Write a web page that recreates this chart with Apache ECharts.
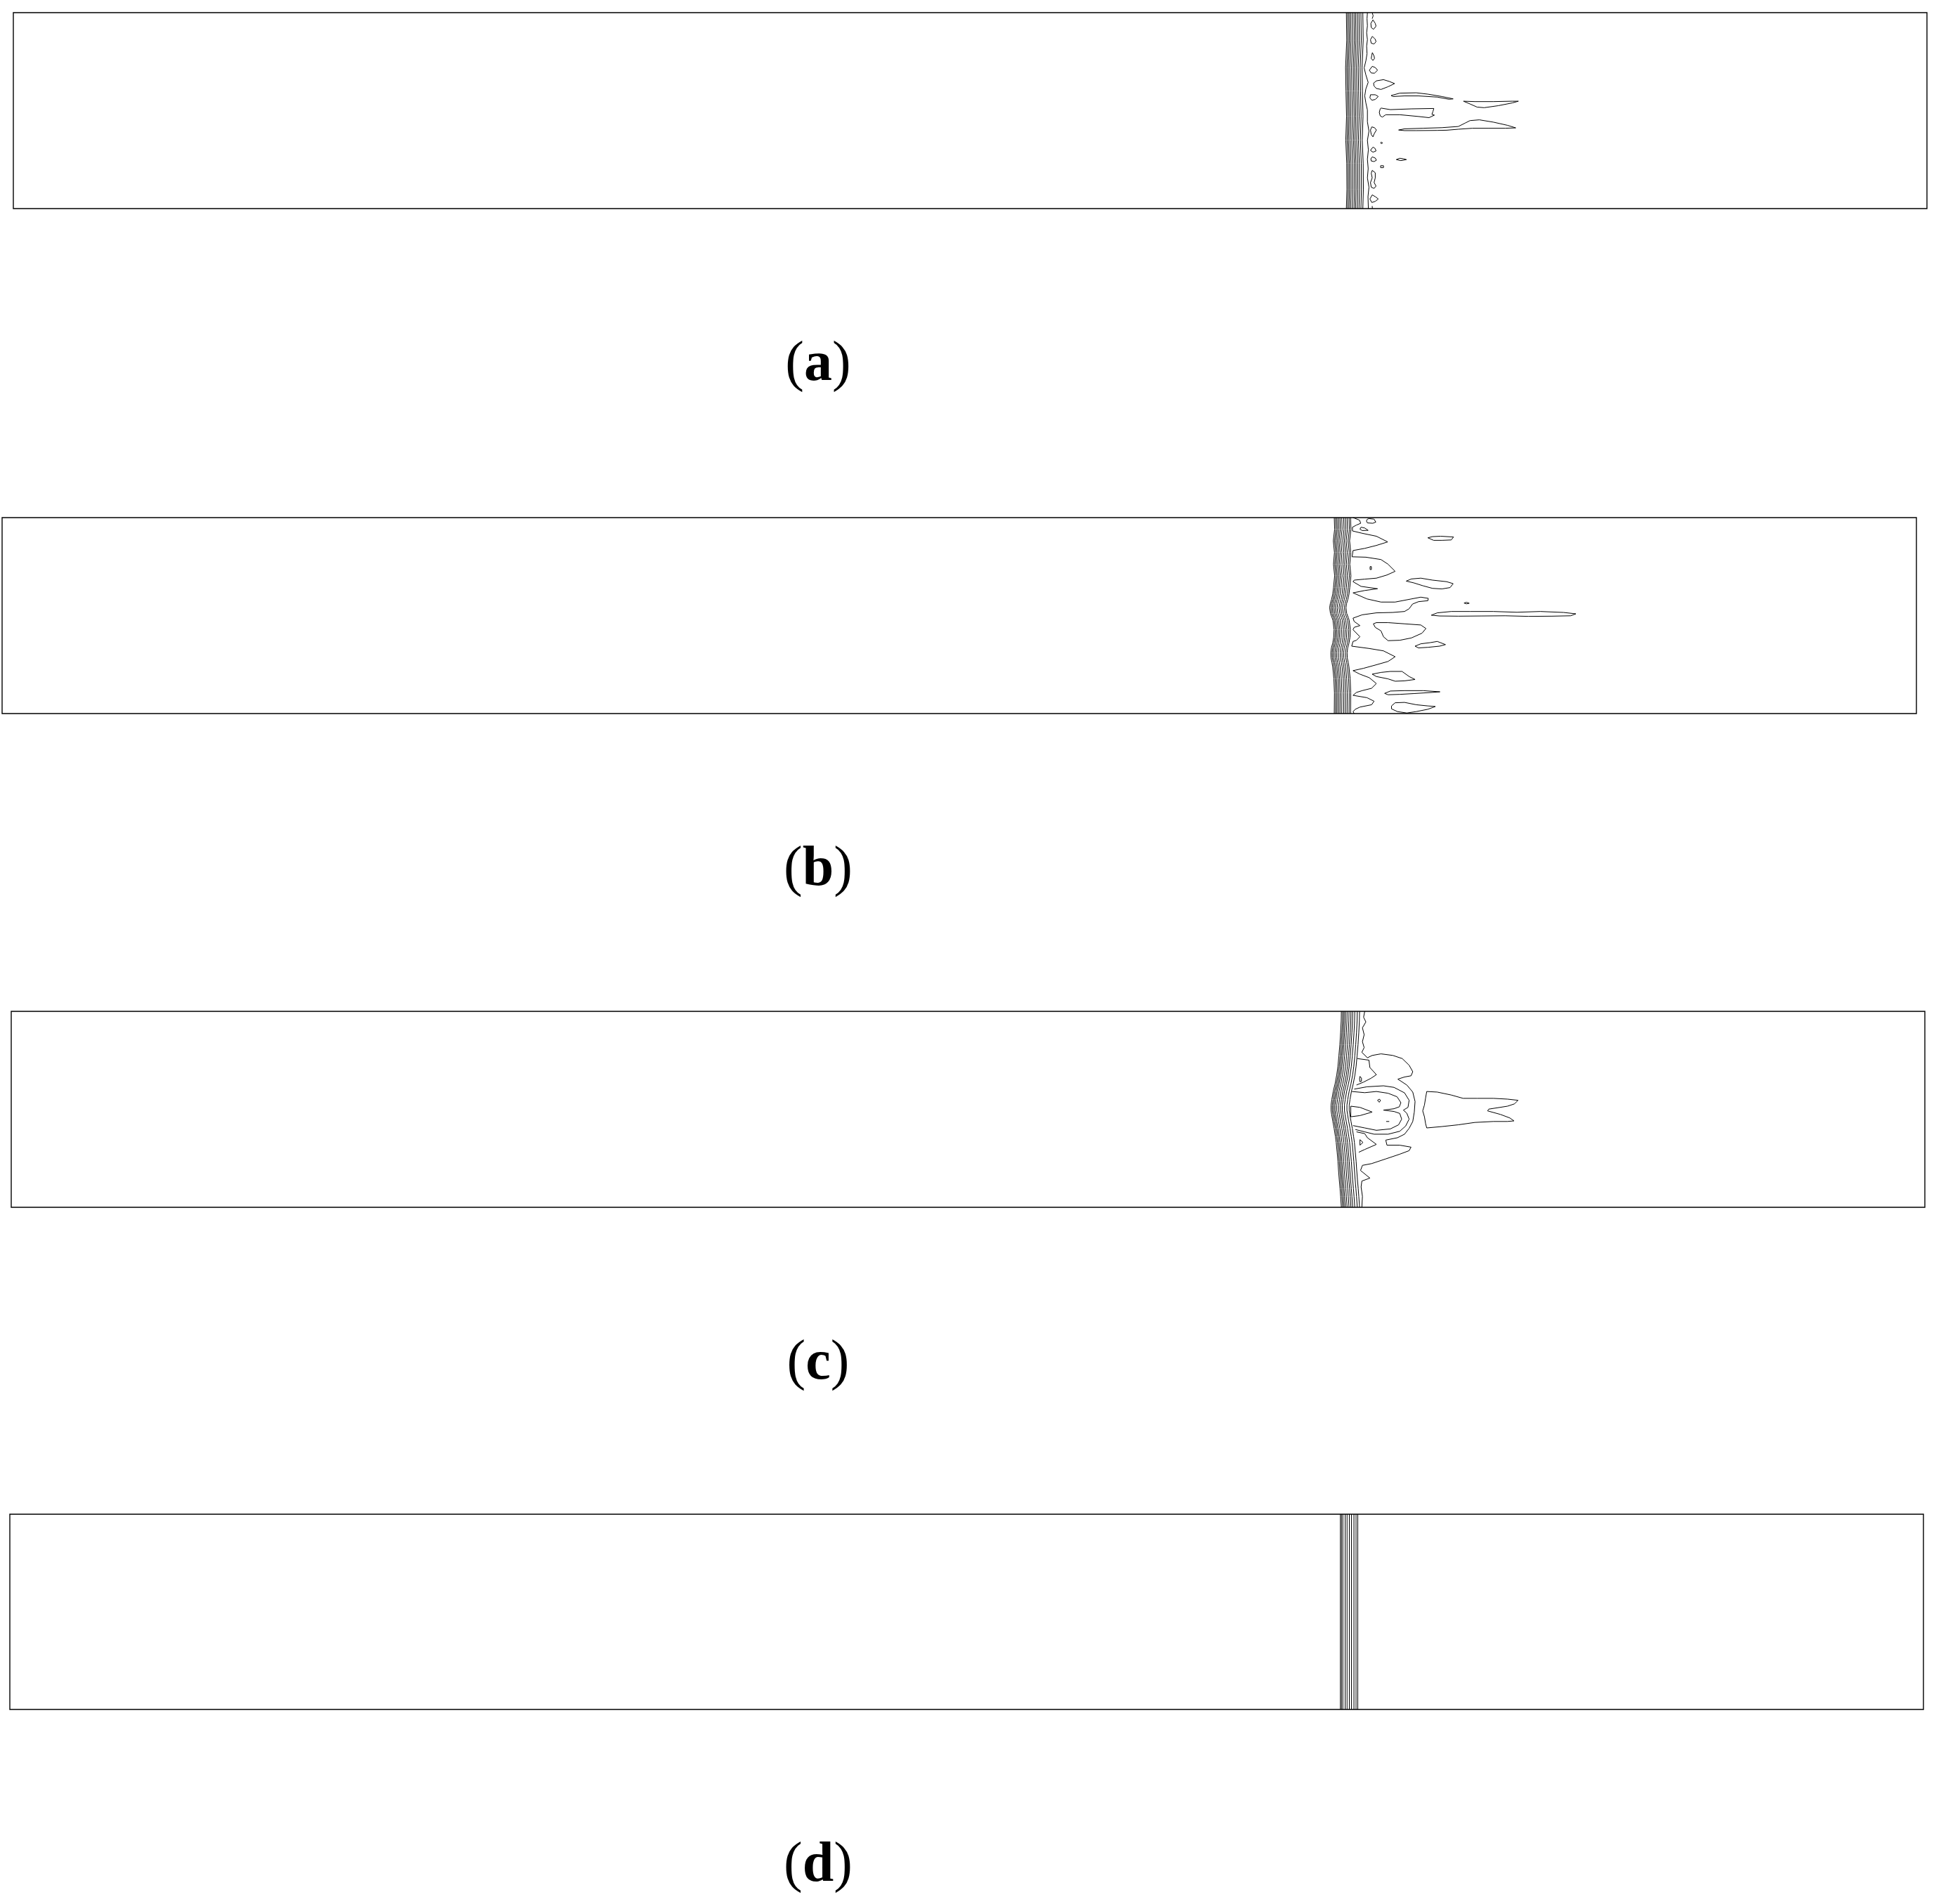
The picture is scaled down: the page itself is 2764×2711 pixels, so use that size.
<!DOCTYPE html>
<html>
<head>
<meta charset="utf-8">
<script src="https://cdn.jsdelivr.net/npm/echarts@6/dist/echarts.min.js"></script>
<style>
  html, body { margin: 0; padding: 0; background: #fff; }
  #main { width: 2764px; height: 2711px; }
</style>
</head>
<body>
<div id="main"></div>
<script>
// panel labels
var labels = ['a', 'b', 'c', 'd'];

// ---- panel (a) ----
// x of the lines in the shock bundle, and how the bundle wanders with height [y, dx]
var frontA = [69.66, 69.73, 69.80, 69.88, 69.97, 70.06, 70.14, 70.23, 70.32, 70.42, 70.52];
var waveA = [[10, 0], [8.6, 0.02], [7.2, -0.04], [6.0, -0.02], [4.7, 0.01], [3.5, -0.03], [2.3, 0.02], [1.0, 0.03], [0, 0]];
var openA = [
  [[70.76,10],[70.74,9.69],[70.76,9.33],[70.72,8.97],[70.76,8.62],[70.72,8.29],[70.74,7.90],[70.68,7.54],[70.59,7.18],[70.68,6.82],[70.80,6.44],[70.68,6.11],[70.62,5.75],[70.68,5.39],[70.76,5.03],[70.76,4.43],[70.84,3.95],[70.76,3.48],[70.81,3.00],[70.76,2.52],[70.80,2.04],[70.76,1.57],[70.84,1.09],[70.79,0.61],[70.81,0]],
  [[71.01,10],[71.06,9.84],[71.01,9.69]],
  [[71.01,0.13],[71.02,0]]
];
var loopsA = [
  [[71.05,9.63],[71.17,9.45],[71.21,9.31],[71.08,9.15],[70.96,9.24],[70.94,9.45]],
  [[71.02,8.79],[71.17,8.64],[71.21,8.52],[71.11,8.40],[70.96,8.44],[70.92,8.62]],
  [[71.02,7.96],[71.11,7.78],[71.13,7.66],[71.05,7.56],[70.96,7.66],[70.99,7.84]],
  [[71.01,7.26],[71.17,7.20],[71.29,7.06],[71.13,6.91],[70.96,6.92],[70.86,7.06]],
  [[71.08,6.40],[71.23,6.52],[71.60,6.58],[71.90,6.49],[72.18,6.38],[71.84,6.22],[71.47,6.08],[71.23,6.13],[71.11,6.25]],
  [[70.92,5.81],[71.17,5.81],[71.33,5.72],[71.17,5.57],[70.99,5.53],[70.89,5.65]],
  [[70.99,4.17],[71.13,4.13],[71.23,4.01],[71.11,3.81],[71.05,3.66],[70.96,3.78],[70.92,4.01]],
  [[71.05,3.14],[71.17,3.06],[71.21,2.94],[71.05,2.88],[70.92,2.97]],
  [[71.01,2.64],[71.17,2.58],[71.23,2.47],[71.11,2.40],[70.96,2.43],[70.94,2.54]],
  [[71.01,1.95],[71.17,1.83],[71.17,1.57],[71.11,1.33],[71.21,1.15],[71.11,1.03],[70.96,1.09],[70.92,1.33],[71.01,1.57],[70.96,1.80]],
  [[71.01,0.70],[71.17,0.61],[71.33,0.49],[71.17,0.37],[70.99,0.31],[70.89,0.49]],
  [[71.47,3.39],[71.55,3.36],[71.50,3.30],[71.45,3.35]],
  [[72.27,2.50],[72.45,2.57],[72.64,2.54],[72.80,2.50],[72.51,2.45]],
  [[71.45,2.19],[71.60,2.19],[71.60,2.09],[71.45,2.09]],
  [[72.00,5.77],[72.45,5.89],[73.31,5.91],[73.92,5.84],[74.65,5.72],[75.24,5.60],[75.02,5.58],[74.41,5.69],[73.43,5.75],[72.70,5.75],[72.09,5.72]],
  [[75.78,5.48],[76.37,5.46],[77.35,5.46],[78.32,5.48],[78.65,5.48],[78.32,5.39],[77.59,5.25],[76.86,5.15],[76.49,5.18],[76.12,5.34]],
  [[71.47,5.13],[71.96,5.05],[73.06,5.09],[74.23,5.11],[74.19,4.97],[74.13,4.81],[74.26,4.77],[73.98,4.64],[73.43,4.70],[72.45,4.79],[71.72,4.79],[71.54,4.67],[71.43,4.73],[71.38,4.91],[71.43,5.09]],
  [[72.39,4.01],[72.70,4.07],[73.68,4.10],[74.65,4.13],[75.51,4.19],[75.88,4.37],[76.12,4.49],[76.61,4.53],[77.35,4.41],[78.08,4.25],[78.51,4.12],[77.96,4.10],[77.10,4.10],[76.24,4.10],[75.51,4.05],[74.90,4.00],[74.41,3.99],[73.31,3.98],[72.70,3.98]]
];

// ---- panel (b) ----
var frontB = [69.59, 69.66, 69.73, 69.81, 69.89, 69.98, 70.08, 70.17, 70.26, 70.36, 70.44];
var waveB = [[10,0],[9.41,0.02],[8.82,-0.05],[8.22,0.01],[7.62,-0.04],[7.03,0.02],[6.43,-0.04],[6.1,-0.08],[5.83,-0.14],[5.6,-0.21],[5.40,-0.24],[5.11,-0.2],[4.9,-0.12],[4.76,-0.07],[4.28,-0.01],[3.9,-0.03],[3.6,-0.08],[3.35,-0.15],[3.10,-0.18],[2.84,-0.17],[2.6,-0.12],[2.37,-0.08],[1.77,-0.02],[1.05,0.01],[0,0]];
var openB = [
  [[70.57,10],[70.91,9.87],[70.97,9.71],[70.75,9.62],[70.54,9.51],[70.54,9.32],[71.05,9.20],[71.79,9.05],[72.38,8.76],[71.79,8.58],[71.18,8.43],[70.57,8.32],[70.52,8.00],[71.24,7.98],[72.03,7.86],[72.40,7.62],[72.77,7.26],[72.34,7.07],[71.79,6.91],[71.18,6.86],[70.63,6.81],[70.57,6.73],[70.99,6.49],[71.85,6.37],[71.18,6.28],[70.57,6.16],[71.30,5.85],[72.03,5.69],[72.77,5.69],[73.62,5.85],[74.11,5.94],[74.50,5.88],[74.48,5.76],[73.99,5.71],[73.68,5.59],[73.50,5.35],[73.26,5.21],[72.64,5.16],[71.79,5.14],[71.05,5.04],[70.57,4.87],[70.63,4.70],[70.93,4.49],[70.63,4.40],[70.57,4.28],[70.93,3.92],[70.75,3.74],[70.57,3.68],[70.50,3.44],[71.42,3.32],[72.16,3.20],[72.77,2.90],[72.40,2.66],[71.79,2.49],[71.12,2.31],[70.57,2.19],[70.93,2.01],[71.42,1.83],[71.79,1.53],[71.54,1.29],[71.05,1.17],[70.75,1.08],[70.57,0.93],[71.30,0.81],[71.67,0.63],[71.54,0.45],[70.93,0.33],[70.69,0.22],[70.57,0.10],[70.63,0]]
];
var loopsB = [
  [[71.32,9.92],[71.40,9.95],[71.67,9.92],[71.76,9.77],[71.60,9.71],[71.32,9.73],[71.27,9.83]],
  [[70.93,9.41],[70.99,9.51],[71.18,9.47],[71.36,9.35],[71.05,9.34]],
  [[74.48,8.97],[74.72,9.03],[75.15,9.05],[75.82,9.01],[75.70,8.86],[75.21,8.84],[74.78,8.84]],
  [[71.46,7.50],[71.53,7.50],[71.53,7.35],[71.46,7.35]],
  [[73.35,6.76],[73.62,6.87],[74.11,6.91],[74.72,6.81],[75.46,6.73],[75.80,6.63],[75.64,6.43],[75.21,6.36],[74.72,6.39],[74.23,6.52],[73.74,6.67]],
  [[76.37,5.64],[76.50,5.68],[76.64,5.63],[76.50,5.60]],
  [[74.66,5.02],[74.97,5.14],[75.70,5.21],[76.68,5.21],[77.90,5.21],[79.13,5.17],[80.35,5.21],[81.57,5.16],[82.21,5.09],[81.94,4.99],[80.96,4.97],[79.74,4.96],[78.51,4.99],[77.29,4.98],[76.07,4.97],[75.09,4.98]],
  [[71.63,4.58],[71.79,4.64],[72.40,4.64],[73.26,4.58],[74.11,4.52],[74.38,4.34],[74.17,4.10],[73.62,3.86],[73.01,3.74],[72.40,3.72],[72.16,3.92],[72.03,4.22],[71.73,4.40]],
  [[73.81,3.44],[74.11,3.56],[74.60,3.62],[74.97,3.68],[75.40,3.52],[75.09,3.44],[74.48,3.38],[73.99,3.35]],
  [[71.57,2.01],[72.03,2.10],[72.52,2.15],[73.13,2.15],[73.50,1.89],[73.81,1.74],[73.26,1.67],[72.77,1.65],[72.40,1.77],[71.79,1.89]],
  [[72.22,1.03],[72.52,1.15],[73.26,1.17],[74.23,1.17],[75.11,1.11],[74.72,1.08],[73.74,1.02],[73.01,0.98],[72.40,0.96]],
  [[72.58,0.39],[72.77,0.55],[73.26,0.57],[73.87,0.45],[74.48,0.39],[74.87,0.36],[74.48,0.22],[73.87,0.10],[73.38,0.03],[72.89,0.10],[72.58,0.24]]
];

// ---- panel (c) ----
var frontC = [69.51, 69.58, 69.65, 69.72, 69.81, 69.91, 70.01, 70.10, 70.21, 70.34, 70.46];
var waveC = [[10,0],[9.5,-0.01],[8.92,-0.04],[8.3,-0.08],[7.73,-0.13],[7.2,-0.18],[6.77,-0.24],[6.3,-0.33],[5.94,-0.42],[5.5,-0.5],[5.22,-0.54],[4.95,-0.54],[4.74,-0.51],[4.4,-0.45],[4.03,-0.38],[3.6,-0.31],[3.31,-0.27],[2.8,-0.22],[2.35,-0.18],[1.9,-0.15],[1.40,-0.11],[0.95,-0.07],[0.56,-0.04],[0,0]];
var openC = [
  [[70.73,10],[70.67,9.70],[70.79,9.46],[70.61,9.16],[70.70,8.81],[70.61,8.45],[70.70,8.15],[70.58,7.91],[70.87,7.63],[71.12,7.75],[71.58,7.83],[72.20,7.75],[72.69,7.59],[73.05,7.25],[73.24,6.92],[73.15,6.71],[72.81,6.65],[72.46,6.54],[72.93,6.24],[73.24,5.88],[73.36,5.40],[73.32,4.86],[73.24,4.38],[73.05,4.03],[72.81,3.73],[72.44,3.55],[71.83,3.43],[71.89,3.17],[72.56,3.17],[73.15,3.07],[73.05,2.89],[72.56,2.71],[71.83,2.47],[71.09,2.23],[70.61,2.14],[70.51,1.88],[71.00,1.49],[70.58,1.34],[70.54,1.04],[70.61,0.56],[70.58,0]],
  [[70.34,7.59],[70.95,7.51],[71.00,7.13],[71.34,6.77],[71.07,6.59],[70.67,6.39],[70.30,6.24]],
  [[70.18,6.03],[70.85,6.15],[71.71,6.20],[72.26,6.12],[72.81,5.84],[73.05,5.46],[72.99,5.10],[72.75,4.96],[72.93,4.80],[73.05,4.50],[72.87,4.15],[72.56,3.88],[71.95,3.73],[71.22,3.73],[70.73,3.85],[70.24,3.97]],
  [[70.06,5.91],[70.73,5.85],[71.34,5.91],[71.95,5.82],[72.42,5.64],[72.62,5.34],[72.54,5.13],[72.26,5.03],[71.71,4.96],[72.26,4.89],[72.56,4.79],[72.66,4.50],[72.50,4.21],[72.07,4.00],[71.34,3.93],[70.73,4.05],[70.12,4.17]],
  [[70.30,3.85],[70.73,3.76],[70.87,3.55],[71.34,3.21],[70.73,2.95],[70.42,2.81]],
  [[71.85,4.38],[72.01,4.38]]
];
var loopsC = [
  [[70.48,6.68],[70.56,6.59],[70.56,6.43],[70.48,6.41],[70.46,6.56]],
  [[70.00,5.16],[70.48,5.10],[71.12,4.86],[70.48,4.68],[70.00,4.62]],
  [[71.40,5.46],[71.49,5.52],[71.56,5.46],[71.49,5.36]],
  [[70.48,3.45],[70.64,3.31],[70.48,3.17]],
  [[73.97,5.91],[74.52,5.88],[75.25,5.73],[75.87,5.56],[76.60,5.56],[77.46,5.56],[78.19,5.52],[78.74,5.46],[78.56,5.28],[78.19,5.16],[77.21,5.01],[77.15,4.92],[77.82,4.74],[78.31,4.56],[78.53,4.41],[78.19,4.38],[77.46,4.38],[76.48,4.33],[75.62,4.21],[74.76,4.12],[73.97,4.05],[73.91,4.27],[73.85,4.62],[73.76,4.92],[73.85,5.22],[73.91,5.58]]
];

// ---- panel (d) ----
var frontD = [69.53, 69.59, 69.66, 69.78, 69.88, 70.00, 70.11, 70.24, 70.35, 70.44];

function bundle(front, wave) {
  return front.map(function (x) {
    return wave.map(function (p) { return [x + p[1], p[0]]; });
  });
}
function closeAll(loops) {
  return loops.map(function (c) { return c.concat([c[0]]); });
}

var panels = [
  bundle(frontA, waveA).concat(openA, closeAll(loopsA)),
  bundle(frontB, waveB).concat(openB, closeAll(loopsB)),
  bundle(frontC, waveC).concat(openC, closeAll(loopsC)),
  bundle(frontD, [[10, 0], [0, 0]])
];

var boxes = [
  { left: 19, top: 18, width: 2725, height: 279 },
  { left: 3, top: 737, width: 2726, height: 279 },
  { left: 16, top: 1440, width: 2725, height: 279 },
  { left: 14, top: 2156, width: 2725, height: 278 }
];
var labelY = [520, 1239, 1942, 2657];

var chart = echarts.init(document.getElementById('main'));

var option = {
  animation: false,
  backgroundColor: '#fff',
  grid: boxes.map(function (b) {
    return { left: b.left, top: b.top, width: b.width, height: b.height,
             show: true, borderColor: '#000', borderWidth: 1.4, backgroundColor: '#fff' };
  }),
  xAxis: boxes.map(function (b, i) {
    return { type: 'value', gridIndex: i, min: 0, max: 100, show: false };
  }),
  yAxis: boxes.map(function (b, i) {
    return { type: 'value', gridIndex: i, min: 0, max: 10, show: false };
  }),
  series: panels.map(function (lines, i) {
    return {
      type: 'lines',
      coordinateSystem: 'cartesian2d',
      xAxisIndex: i,
      yAxisIndex: i,
      polyline: true,
      silent: true,
      clip: true,
      lineStyle: { color: '#000', width: 1, opacity: 1 },
      data: lines.map(function (c) { return { coords: c }; })
    };
  }),
  graphic: labels.map(function (t, i) {
    return {
      type: 'text',
      x: 1165,
      y: labelY[i],
      style: {
        text: '{p|(}{b|' + t + '}{p|)}',
        align: 'center',
        verticalAlign: 'middle',
        fill: '#000',
        rich: {
          p: { fontFamily: 'Liberation Serif', fontSize: 80, fontWeight: 'normal', fill: '#000' },
          b: { fontFamily: 'Liberation Serif', fontSize: 80, fontWeight: 'bold', fill: '#000' }
        }
      }
    };
  })
};

chart.setOption(option);
</script>
</body>
</html>
